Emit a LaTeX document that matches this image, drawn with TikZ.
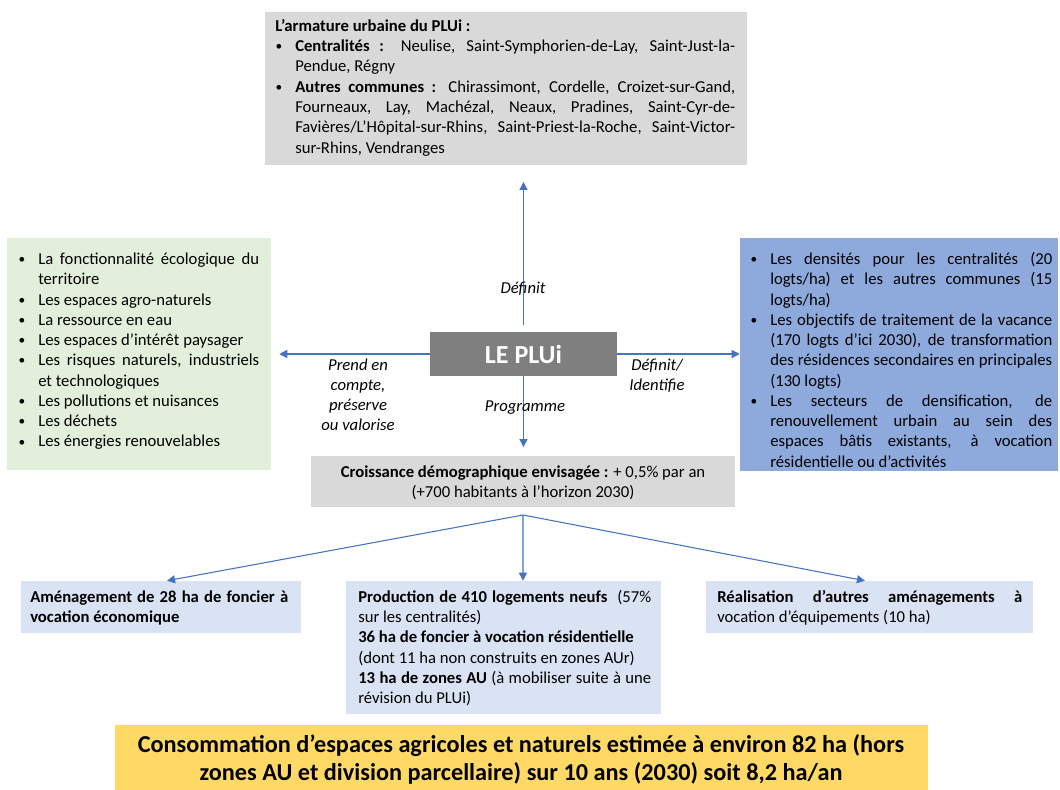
\documentclass[tikz,border=0pt]{standalone}
\usepackage{fontspec}
\setmainfont{Carlito}
\usetikzlibrary{arrows.meta,fit}
\definecolor{arr}{HTML}{4472C4}
\definecolor{topgray}{HTML}{D9D9D9}
\definecolor{pluigray}{HTML}{7F7F7F}
\definecolor{greenfill}{HTML}{E2EFDA}
\definecolor{bluefill}{HTML}{8EA9DB}
\definecolor{lightblue}{HTML}{DAE3F3}
\definecolor{yellowfill}{HTML}{FFD966}
\newlength{\bulind}\setlength{\bulind}{15pt}
\newcommand{\smallbul}{\raisebox{0.7pt}{\fontsize{10pt}{10pt}\selectfont\textbullet}}
\newcommand{\bul}{\par\hangindent=\bulind\hangafter=1\noindent\makebox[\bulind][l]{\strut\hspace{0.3pt}\smallbul}}
\newcommand{\txtfont}{\fontsize{12.5pt}{15.2pt}\selectfont\parindent=0pt\hyphenpenalty=10000\exhyphenpenalty=10000\relax}
\begin{document}
\begin{tikzpicture}[x=0.75pt,y=-0.75pt,
  box/.style={inner sep=0pt, draw=none},
  txt/.style={inner sep=0pt, anchor=north west, align=justify, font=\txtfont},
  lab/.style={inner sep=0pt, align=center, font=\fontsize{12.5pt}{15pt}\selectfont\itshape},
  arrow/.style={draw=arr, line width=0.8pt, -{Triangle[length=6pt,width=6pt]}}]
\useasboundingbox (0,0) rectangle (1060,789);
% boxes
\node[box, fill=topgray, fit={(265,12)(747,165)}] (topbox) {};
\node[box, fill=greenfill, fit={(7,238)(271,470)}] (greenbox) {};
\node[box, fill=bluefill, fit={(740,238)(1058,471)}] (bluebox) {};
\node[box, fill=pluigray, fit={(430,332)(617,376)}] (pluibox) {};
\node[box, fill=topgray, fit={(311,456)(735,507)}] (crois) {};
\node[box, fill=lightblue, fit={(21,581)(301,633)}] (leftbox) {};
\node[box, fill=lightblue, fit={(346,581)(661,714)}] (midbox) {};
\node[box, fill=lightblue, fit={(706,581)(1033,633)}] (rightbox) {};
\node[box, fill=yellowfill, fit={(115,725)(928,800)}] (yellowbox) {};
% connectors
\coordinate (fan) at (523,515);
\draw[arrow, shorten <=5pt, shorten >=12.5pt] (pluibox.north) -- (pluibox.north |- topbox.south);
\draw[arrow, shorten >=6pt] (pluibox.west) -- (pluibox.west -| greenbox.east);
\draw[arrow] (pluibox.east) -- (pluibox.east -| bluebox.west);
\draw[arrow, shorten >=6.5pt] (pluibox.south) -- (pluibox.south |- crois.north);
\draw[arrow] (fan) -- ([xshift=4.5pt]leftbox.north);
\draw[arrow] (fan) -- ([xshift=14.6pt]midbox.north);
\draw[arrow] (fan) -- ([xshift=-3.4pt]rightbox.north);
% texts
\node[txt, text width=345pt] (toptext) at (275,17) {\strut\textbf{L’armature urbaine du PLUi :}
\bul\textbf{Centralités :} Neulise, Saint-Symphorien-de-Lay, Saint-Just-la-\linebreak Pendue, Régny
\bul\textbf{Autres communes :} Chirassimont, Cordelle, Croizet-sur-Gand,\linebreak Fourneaux, Lay, Machézal, Neaux, Pradines, Saint-Cyr-de-\linebreak Favières/L’Hôpital-sur-Rhins, Saint-Priest-la-Roche, Saint-Victor-\linebreak sur-Rhins, Vendranges\par};
\node[txt, text width=180.75pt] (greentext) at (18,244) {\bul La fonctionnalité écologique du\linebreak territoire
\bul Les espaces agro-naturels
\bul La ressource en eau
\bul Les espaces d’intérêt paysager
\bul Les risques naturels, industriels\linebreak et technologiques
\bul Les pollutions et nuisances
\bul Les déchets
\bul Les énergies renouvelables\par};
\node[txt, text width=226.5pt] (bluetext) at (750,244) {\bul Les densités pour les centralités (20\linebreak logts/ha) et les autres communes (15\linebreak logts/ha)
\bul Les objectifs de traitement de la vacance\linebreak (170 logts d’ici 2030), de transformation\linebreak des résidences secondaires en principales\linebreak (130 logts)
\bul Les secteurs de densification, de\linebreak renouvellement urbain au sein des\linebreak espaces bâtis existants, à vocation\linebreak résidentielle ou d’activités\par};
\node[inner sep=0pt, anchor=center, font=\fontsize{19.5pt}{22pt}\selectfont\bfseries, text=white] (pluitext) at (pluibox.center) {LE PLUi};
\node[inner sep=0pt, anchor=north, align=center, font=\txtfont] (croistext) at (523,463) {\strut\textbf{Croissance démographique envisagée :} + 0,5\% par an\\ (+700 habitants à l’horizon 2030)};
\node[txt, text width=193.5pt] (lefttext) at (30,588) {\strut\textbf{Aménagement de 28 ha de foncier à\linebreak vocation économique}\par};
\node[txt, text width=219.75pt] (midtext) at (358,588) {\strut\textbf{Production de 410 logements neufs}\ \ (57\%\linebreak sur les centralités)\par
\textbf{36 ha de foncier à vocation résidentielle}\par
(dont 11 ha non construits en zones AUr)\par
\textbf{13 ha de zones AU} (à mobiliser suite à une\linebreak révision du PLUi)\par};
\node[txt, text width=228.75pt] (righttext) at (717,588) {\strut\textbf{Réalisation d’autres aménagements à}\linebreak vocation d’équipements (10 ha)\par};
\node[inner sep=0pt, anchor=north, align=center, font=\fontsize{18.2pt}{21pt}\selectfont\bfseries] (yellowtext) at (521,733) {\strut Consommation d’espaces agricoles et naturels estimée à environ 82 ha (hors\\ zones AU et division parcellaire) sur 10 ans (2030) soit 8,2 ha/an};
% labels
\node[lab] (labup) at (523,289) {Définit};
\node[lab] (lableft) at (358,395) {Prend en\\compte,\\préserve\\ou valorise};
\node[lab] (labright) at (657,376) {Définit/\\Identifie};
\node[lab] (labdown) at (525,408) {Programme};
\end{tikzpicture}
\end{document}
